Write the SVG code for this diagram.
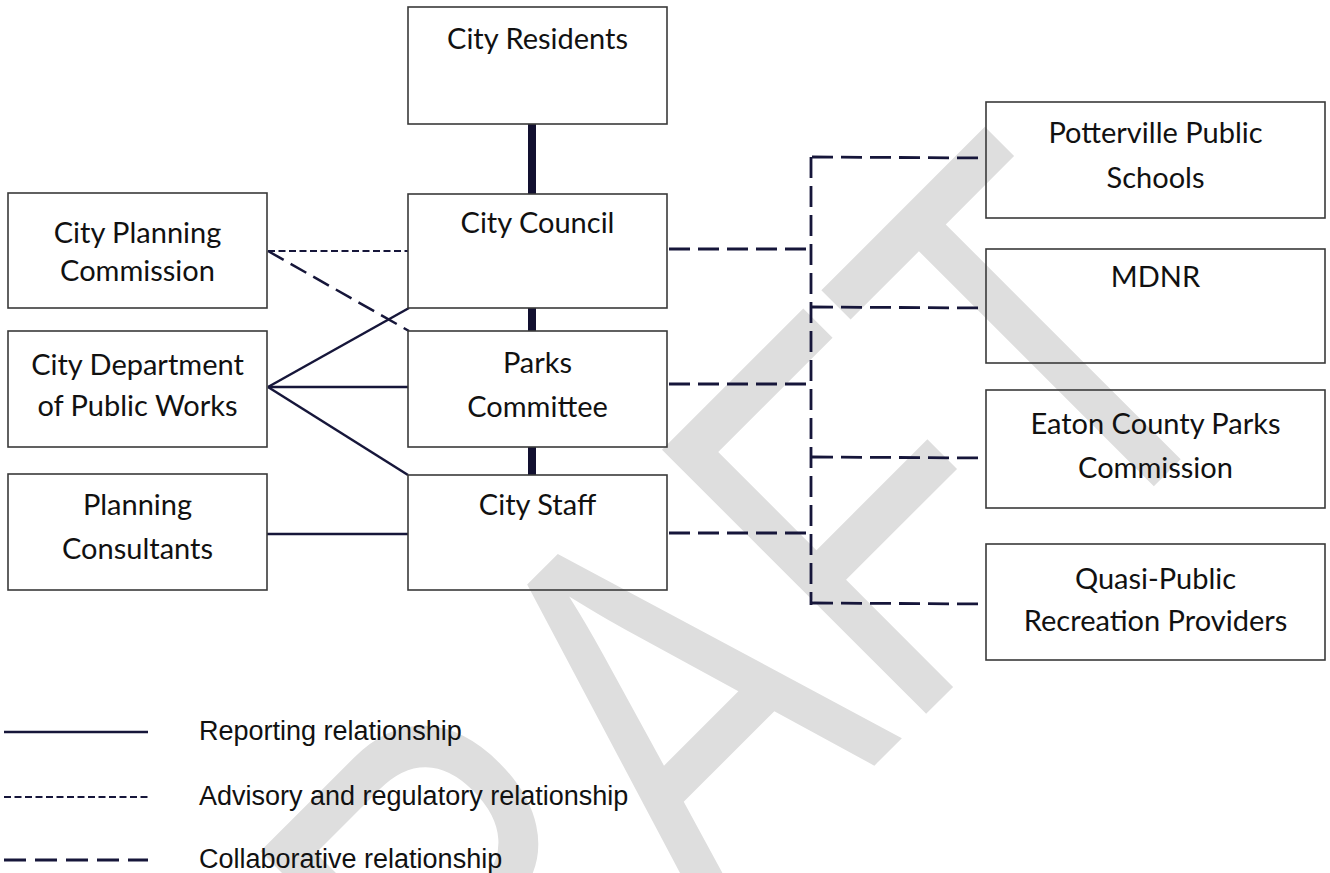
<svg xmlns="http://www.w3.org/2000/svg" width="1330" height="873" viewBox="0 0 1330 873">
<style>
.box{fill:none;stroke:#3a3a3a;stroke-width:1.6}
.lbl{font-family:Lato,"Open Sans",sans-serif;font-size:29px;fill:#111;text-anchor:middle}
.leg{font-family:"Liberation Sans",Arial,sans-serif;font-size:27px;fill:#111}
.solid{stroke:#16163a;stroke-width:2.5;fill:none}
.thick{stroke:#121030;stroke-width:8;fill:none}
.dash{stroke:#16163a;stroke-width:2.8;fill:none;stroke-dasharray:21 8}
.diag{stroke:#16163a;stroke-width:2.5;fill:none;stroke-dasharray:18 8}
.dot{stroke:#16163a;stroke-width:2;fill:none;stroke-dasharray:7 3.5}
</style>
<rect width="1330" height="873" fill="#ffffff"/>
<g id="watermark">
<text x="0" y="0" transform="translate(292 1348) rotate(-45) scale(0.753 1)" font-family="Liberation Sans, Arial, sans-serif" font-size="543" fill="#dedede">DRAFT</text>
</g>
<g id="connectors">
<line class="thick" x1="532" y1="124" x2="532" y2="194"/>
<line class="thick" x1="532" y1="308" x2="532" y2="331"/>
<line class="thick" x1="532" y1="447" x2="532" y2="475"/>
<line class="dot" x1="268" y1="251" x2="408" y2="251"/>
<line class="diag" x1="268" y1="251" x2="409" y2="331"/>
<line class="solid" x1="268" y1="387" x2="409" y2="308"/>
<line class="solid" x1="268" y1="387" x2="408" y2="387"/>
<line class="solid" x1="268" y1="387" x2="408" y2="475"/>
<line class="solid" x1="267" y1="534" x2="408" y2="534"/>
<line class="dash" x1="669" y1="249" x2="809" y2="249"/>
<line class="dash" x1="669" y1="384" x2="809" y2="384"/>
<line class="dash" x1="669" y1="533" x2="809" y2="533"/>
<line class="dash" x1="811" y1="157" x2="811" y2="605"/>
<line class="dash" x1="812" y1="157" x2="986" y2="158"/>
<line class="dash" x1="812" y1="307" x2="986" y2="308"/>
<line class="dash" x1="812" y1="457" x2="986" y2="458"/>
<line class="dash" x1="812" y1="603" x2="986" y2="604"/>
</g>
<g id="city-residents"><rect class="box" x="408" y="7" width="259" height="117"/><text class="lbl" x="537.5" y="49">City Residents</text></g>
<g id="city-council"><rect class="box" x="408" y="194" width="259" height="114"/><text class="lbl" x="537.5" y="233">City Council</text></g>
<g id="parks-committee"><rect class="box" x="408" y="331" width="259" height="116"/><text class="lbl" x="537.5" y="373">Parks</text><text class="lbl" x="537.5" y="417">Committee</text></g>
<g id="city-staff"><rect class="box" x="408" y="475" width="259" height="115"/><text class="lbl" x="537.5" y="515">City Staff</text></g>
<g id="city-planning-commission"><rect class="box" x="8" y="193" width="259" height="115"/><text class="lbl" x="137.5" y="243">City Planning</text><text class="lbl" x="137.5" y="281">Commission</text></g>
<g id="public-works"><rect class="box" x="8" y="331" width="259" height="116"/><text class="lbl" x="137.5" y="375">City Department</text><text class="lbl" x="137.5" y="416">of Public Works</text></g>
<g id="planning-consultants"><rect class="box" x="8" y="474" width="259" height="116"/><text class="lbl" x="137.5" y="515">Planning</text><text class="lbl" x="137.5" y="559">Consultants</text></g>
<g id="potterville-schools"><rect class="box" x="986" y="102" width="339" height="116"/><text class="lbl" x="1155.5" y="143">Potterville Public</text><text class="lbl" x="1155.5" y="188">Schools</text></g>
<g id="mdnr"><rect class="box" x="986" y="249" width="339" height="114"/><text class="lbl" x="1155.5" y="287">MDNR</text></g>
<g id="eaton-county"><rect class="box" x="986" y="390" width="339" height="118"/><text class="lbl" x="1155.5" y="434">Eaton County Parks</text><text class="lbl" x="1155.5" y="478">Commission</text></g>
<g id="quasi-public"><rect class="box" x="986" y="544" width="339" height="116"/><text class="lbl" x="1155.5" y="589">Quasi-Public</text><text class="lbl" x="1155.5" y="631">Recreation Providers</text></g>
<g id="legend">
<line class="solid" x1="4" y1="732" x2="148" y2="732"/>
<line class="dot" x1="4" y1="797" x2="148" y2="797"/>
<line class="dash" x1="4" y1="860" x2="148" y2="860" style="stroke-dasharray:22 9"/>
<text class="leg" x="199" y="740">Reporting relationship</text>
<text class="leg" x="199" y="805">Advisory and regulatory relationship</text>
<text class="leg" x="199" y="868">Collaborative relationship</text>
</g>
</svg>
